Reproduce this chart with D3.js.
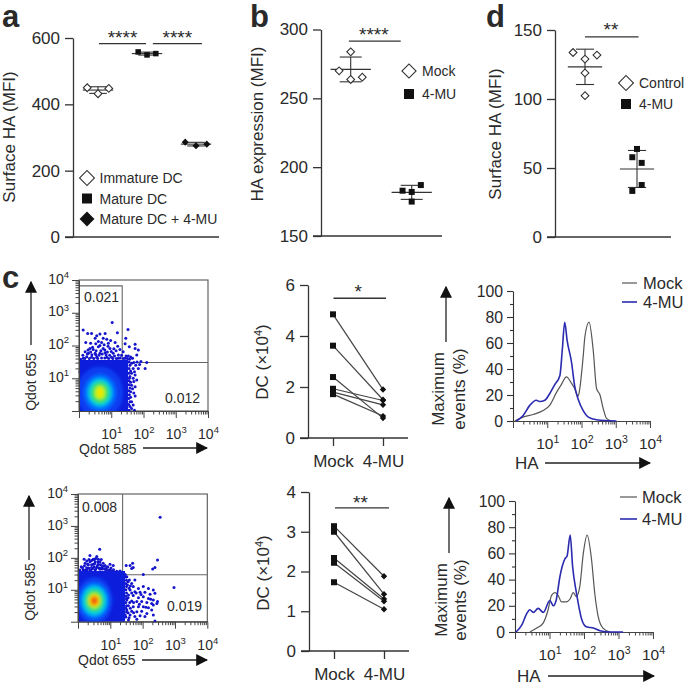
<!DOCTYPE html>
<html><head><meta charset="utf-8"><script src="https://cdn.jsdelivr.net/npm/d3@7"></script>
<style>html,body{margin:0;background:#fff}svg{display:block}text{font-family:"Liberation Sans",Arial,sans-serif;fill:#2a2a2a}</style>
</head><body><svg id="c" width="685" height="685"></svg>
<script>
// ---------- panel a
const aGroups = ["Immature DC","Mature DC","Mature DC + 4-MU"];
const aPoints = [[[-0.22,450],[0,432],[0.22,448]],[[-0.18,558],[0,549],[0.18,553]],[[-0.22,286],[0,275],[0.22,280]]];
const aMean = [443,553,280];
const aSD = [10,4.5,5.5];
// ---------- panel b
const bGroups = ["Mock","4-MU"];
const bPoints = [[[-0.19,270],[0,283.8],[0,263.7],[0.19,265.4]],[[-0.15,182.9],[0,182],[0,175],[0.15,187]]];
const bMean = [271,181.7];
const bSD = [9,5.1];
// ---------- panel d
const dGroups = ["Control","4-MU"];
const dPoints = [[[-0.23,133.7],[0.23,131.8],[0,128.9],[0,118.9],[0,102.4]],[[0,63.8],[-0.09,57.8],[0.09,53.7],[0.09,37.7],[-0.09,33.4]]];
const dMean = [123.3,49.3];
const dSD = [12.8,13.4];
// ---------- paired DC counts
const pairCats = ["Mock","4-MU"];
const pairTop = [[4.85,1.9],[3.62,1.5],[2.39,0.78],[1.93,1.47],[1.8,1.3],[1.72,0.86]];
const pairBottom = [[3.14,1.88],[3.0,1.43],[2.34,1.31],[2.22,1.25],[1.73,1.05]];
// ---------- histograms [log10 HA, % max]
const h1Mock = [[.05,0],[.29,3],[.59,5],[.88,8],[1.07,12],[1.27,22],[1.41,28],[1.56,34],[1.71,29],[1.80,25],[1.90,19],[1.95,25],[2.05,50],[2.10,65],[2.22,76],[2.34,55],[2.44,25],[2.54,20],[2.63,10],[2.73,2],[2.88,0]];
const h1Blue = [[.10,0],[.29,4],[.49,12],[.68,16],[.78,15],[.93,16],[1.07,21],[1.22,28],[1.37,35],[1.44,55],[1.51,76],[1.58,62],[1.71,45],[1.80,27],[1.90,17],[2.05,8],[2.20,3],[2.44,1],[3.02,0]];
const h2Mock = [[.43,0],[.63,3],[.82,7],[.96,17],[1.06,28],[1.16,30],[1.25,28],[1.35,23],[1.49,23],[1.59,25],[1.69,30],[1.78,27],[1.88,35],[1.98,60],[2.09,74],[2.22,55],[2.31,30],[2.41,12],[2.55,3],[2.75,0]];
const h2Blue = [[.03,0],[.19,5],[.34,14],[.43,17],[.53,15],[.67,18],[.82,15],[1.01,24],[1.11,20],[1.20,25],[1.30,42],[1.45,56],[1.51,58],[1.60,74],[1.67,50],[1.78,30],[1.93,10],[2.07,4],[2.27,3],[2.46,1],[2.75,0],[3.13,0]];
// ---------- flow plots: events in log10 units
const flow1Labels = ["0.021","0.012"];
const flow2Labels = ["0.008","0.019"];
const flow1Block = [1.52,1.56];
const flow2Block = [1.455,1.59];
// density levels: colour, rx, ry in log10 units
const flow1Center = [.65,.56];
const flow1Levels = [["#0a3cf0",.72,.80],["#0070ff",.50,.56],["#00c8e0",.38,.43],["#30e070",.29,.33],["#b8f000",.17,.22],["#e8e800",.10,.14]];
const flow2Center = [.506,.658];
const flow2Levels = [["#0a3cf0",.56,.74],["#0070ff",.47,.58],["#00c8e0",.38,.47],["#30e070",.29,.35],["#c8e800",.20,.24],["#ff9a00",.14,.16],["#f05a10",.08,.09]];
const flow1Events = [[1.03,2.70],[1.52,2.49],[1.19,2.39],[.13,2.47],[.27,2.37],[.39,2.37],[.65,2.35],[.81,2.37],[.55,2.30],[1.45,2.22],[.50,2.22],[.75,2.22],[.86,2.19],[.98,2.15],[.21,2.09],[.36,2.07],[.60,2.12],[.70,2.09],[.91,2.07],[1.12,2.09],[1.43,2.05],[1.74,2.04],[1.56,1.96],[1.84,1.86],[.34,1.91],[.44,1.88],[.60,1.96],[.75,1.91],[.96,1.91],[1.27,1.88],[1.37,1.81],[1.74,1.91],[.19,1.81],[.29,1.76],[.50,1.76],[.65,1.76],[.81,1.78],[1.06,1.76],[1.22,1.71],[1.53,1.68],[1.79,1.71],[1.66,1.61],[1.92,1.51],[2.10,1.48],[2.05,1.30],[1.63,1.46],[1.68,1.30],[1.84,1.30],[1.63,1.15],[1.74,1.10],[1.79,.95],[1.68,1.00],[1.63,.79],[1.74,.74],[1.60,.59],[1.74,.46],[1.63,.28],[1.68,.18],[1.48,.11],[1.63,.08],[1.37,.05],[.13,1.61],[.24,1.66],[.39,1.64],[.55,1.64],[.86,1.64],[1.01,1.64],[1.22,1.61],[1.43,1.61],[.08,1.35],[.03,1.20],[1.56,1.00],
[.05,1.58],[.12,1.7],[.18,1.6],[.26,1.74],[.32,1.6],[.40,1.72],[.46,1.6],[.52,1.72],[.58,1.6],[.62,1.7],[.7,1.62],[.72,1.74],[.8,1.62],[.84,1.72],[.92,1.6],[.95,1.7],[1.05,1.6],[1.1,1.68],[1.16,1.6],[1.28,1.62],[1.32,1.7],[1.38,1.6],[1.5,1.6],[1.46,1.68],[1.57,1.58],[1.6,1.65],[.28,1.86],[.36,1.8],[.42,1.95],[.53,1.84],[.68,1.84],[.8,1.86],[.88,1.8],[.9,1.98],[1.0,1.82],[1.08,1.9],[1.15,1.84],[1.2,1.98],[.52,2.05],[.78,2.02],[.65,2.0],[1.55,1.5],[1.58,1.4],[1.55,1.3],[1.6,1.22],[1.55,1.15],[1.58,1.05],[1.55,.92],[1.6,.88],[1.55,.8],[1.58,.7],[1.54,.62],[1.56,.5],[1.6,.42],[1.54,.38],[1.58,.28],[1.54,.2],[1.58,.14],[1.7,.9],[1.66,.68],[1.7,.55],[1.72,1.2],[1.76,1.4],[1.7,1.48],[1.8,1.5],[1.88,1.42],[1.45,.03],[1.55,.02],[1.72,.02]];
const flow2Events = [[.67,2.27],[2.46,1.93],[1.69,1.83],[1.49,1.76],[1.61,1.76],[1.71,1.70],[2.38,1.70],[1.66,1.67],[2.31,1.65],[1.09,1.76],[.37,2.07],[.58,2.04],[.19,1.96],[.27,1.90],[.47,1.96],[.63,1.96],[.37,1.88],[.53,1.88],[.68,1.88],[.78,1.83],[.99,1.80],[.22,1.83],[.32,1.78],[.47,1.80],[.63,1.80],[.84,1.76],[.14,1.69],[.27,1.69],[.42,1.70],[.58,1.70],[.73,1.70],[.89,1.70],[.06,1.62],[.22,1.62],[.37,1.62],[.53,1.62],[.68,1.64],[.84,1.64],[.99,1.62],[1.04,1.59],[1.30,1.59],[1.15,1.55],[1.40,1.52],[1.46,1.48],[2.02,1.48],[1.76,1.31],[1.51,1.41],[1.59,1.31],[1.66,1.20],[1.53,1.15],[1.71,1.10],[1.87,1.04],[2.02,1.10],[2.18,1.04],[2.33,.99],[1.61,.99],[1.76,.94],[1.92,.92],[2.07,.92],[2.23,.86],[2.38,.89],[1.56,.84],[1.71,.82],[1.87,.75],[2.02,.78],[2.18,.73],[2.33,.68],[2.46,.63],[1.51,.68],[1.66,.65],[1.82,.63],[1.97,.63],[2.13,.60],[2.28,.57],[2.44,.57],[1.56,.50],[1.71,.47],[1.87,.47],[2.02,.47],[2.18,.44],[2.33,.52],[1.51,.37],[1.66,.33],[1.82,.31],[1.97,.33],[2.13,.26],[2.28,.37],[1.46,.21],[1.61,.21],[1.76,.16],[1.92,.19],[2.33,.21],[2.07,.16],[1.40,.05],[1.56,.05],[1.82,.08],[2.38,.02],[1.35,.10],[2.54,3.27],[2.97,1.07],
[.1,1.72],[.16,1.62],[.2,1.75],[.28,1.62],[.3,1.8],[.33,1.68],[.4,1.62],[.42,1.78],[.45,1.66],[.5,1.72],[.52,1.82],[.55,1.65],[.6,1.75],[.62,1.88],[.66,1.68],[.7,1.78],[.75,1.65],[.78,1.74],[.82,1.66],[.88,1.62],[.92,1.72],[.95,1.62],[1.02,1.68],[1.1,1.63],[.42,1.92],[.5,1.95],[.34,1.95],[.55,1.98],[.72,1.95],[1.48,1.4],[1.5,1.3],[1.48,1.2],[1.5,1.1],[1.48,1.0],[1.5,.9],[1.48,.8],[1.5,.72],[1.48,.6],[1.5,.5],[1.48,.42],[1.5,.3],[1.48,.15],[1.55,1.25],[1.58,1.05],[1.55,.75],[1.6,.6],[1.55,.28],[1.58,.12],[1.2,1.58],[1.25,1.55],[1.35,1.55],[1.62,1.12],[1.66,.9],[1.8,.9],[1.62,.42],[1.72,.6],[1.72,.28],[1.95,.85],[1.9,.55],[2.1,.45],[2.25,.7]];

const INK="#333", svg=d3.select("#c");
const defs=svg.append("defs");
defs.append("filter").attr("id","bl").attr("x","-30%").attr("y","-30%").attr("width","160%").attr("height","160%")
  .append("feGaussianBlur").attr("stdDeviation",1.8);
defs.append("marker").attr("id","ah").attr("viewBox","0 0 10 10").attr("refX",9).attr("refY",5).attr("markerUnits","userSpaceOnUse")
  .attr("markerWidth",12).attr("markerHeight",12).attr("orient","auto").append("path").attr("d","M0,0L10,5L0,10Z").attr("fill","#111");

function txt(x,y,s,size,o={}){
  const t=svg.append("text").attr("x",x).attr("y",y).attr("font-size",size).text(s);
  if(o.anchor)t.attr("text-anchor",o.anchor);
  if(o.bold)t.attr("font-weight","bold");
  if(o.rot)t.attr("transform",`rotate(-90 ${x} ${y})`).attr("text-anchor","middle");
  return t;
}
function sym(g,x,y,kind,side,fill){
  g.append("path").attr("d",d3.symbol(d3.symbolSquare,side*side)())
   .attr("transform",`translate(${x},${y})`+(kind==="sq"?"":" rotate(45)"))
   .attr("fill",fill?"#111":"#fff").attr("stroke",fill?"none":"#333").attr("stroke-width",1.1);
}
function hl(x1,x2,y,w=1.3,c=INK){svg.append("line").attr("x1",x1).attr("x2",x2).attr("y1",y).attr("y2",y).attr("stroke",c).attr("stroke-width",w);}
function styleAxis(g,w=1.3,c=INK){g.select(".domain").attr("stroke",c).attr("stroke-width",w);g.selectAll(".tick line").attr("stroke",c).attr("stroke-width",w);}
function arrow(x1,y1,x2,y2){svg.append("line").attr("x1",x1).attr("y1",y1).attr("x2",x2).attr("y2",y2).attr("stroke","#222").attr("stroke-width",1.3).attr("marker-end","url(#ah)");}
function sup(sel,size){sel.each(function(d){const e=Math.round(Math.log10(d));const t=d3.select(this);t.text(null);
  if(Number.isInteger(Math.log10(d))&&e>0){t.append("tspan").attr("font-size",size).text("10");t.append("tspan").attr("font-size",size*.68).attr("dy",-size*.42).text(e);}});}
function yAxisLeft(x0,scale,ticks,x1,fs){
  const g=svg.append("g").attr("transform",`translate(${x0},0)`).call(d3.axisLeft(scale).tickValues(ticks).tickSize(8).tickSizeOuter(0).tickPadding(5));
  styleAxis(g);g.selectAll("text").attr("font-size",fs).attr("fill","#2a2a2a");
  hl(x0-8,x1,scale.range()[0]);
  return g;
}
function stars(x,y,s){txt(x,y,s,19,{anchor:"middle"});}
function dotPanel(points,mean,sd,x,y,kinds,hw,cw,size){
  points.forEach((pts,i)=>{
    const cx=x(i);
    hl(x(i-hw),x(i+hw),y(mean[i]),1.1);
    [y(mean[i]-sd[i]),y(mean[i]+sd[i])].forEach(v=>hl(x(i-cw),x(i+cw),v,1.1));
    svg.append("line").attr("x1",cx).attr("x2",cx).attr("y1",y(mean[i]-sd[i])).attr("y2",y(mean[i]+sd[i])).attr("stroke",INK).attr("stroke-width",1.1);
    const gg=svg.append("g");
    pts.forEach(p=>{const k=kinds[i];sym(gg,x(i+p[0]),y(p[1]),k.t,k.s,k.f);});
  });
}
const fs=17;
// panel a
{const x=d3.scaleLinear([0,1],[98,147]),y=d3.scaleLinear([0,600],[237,38]);
 yAxisLeft(73,y,[0,200,400,600],219,fs);
 dotPanel(aPoints,aMean,aSD,x,y,[{t:"di",s:5.5,f:false},{t:"sq",s:5.5,f:true},{t:"di",s:5,f:true}],.31,.18);
 hl(x(0.02),x(0.98),y(583));hl(x(1.12),x(2.12),y(583));
 stars(x(.5),44,"****");stars(x(1.62),44,"****");
 txt(15,137,"Surface HA (MFI)",fs,{rot:1});
 const kinds=[["di",10.5,false],["sq",10,true],["di",10.5,true]];
 aGroups.forEach((s,i)=>{const yy=178+i*20.5;sym(svg,87,yy,kinds[i][0],kinds[i][1],kinds[i][2]);txt(99.5,yy+5,s,14);});
}
// panel b
{const x=d3.scaleLinear([0,1],[350.7,411.7]),y=d3.scaleLinear([150,300],[236,29.5]);
 yAxisLeft(321,y,[150,200,250,300],442,fs);
 dotPanel(bPoints,bMean,bSD,x,y,[{t:"di",s:5.5,f:false},{t:"sq",s:6,f:true}],.33,.18);
 hl(x(-.03),x(.82),y(291.6));stars(x(.38),41,"****");
 txt(263,124,"HA expression (MFI)",fs,{rot:1});
 sym(svg,409,71,"di",10,false);sym(svg,409,94,"sq",10,true);
 bGroups.forEach((s,i)=>txt(422,76+i*23,s,14));
}
// panel d
{const x=d3.scaleLinear([0,1],[585,637]),y=d3.scaleLinear([0,150],[237,30]);
 yAxisLeft(555,y,[0,50,100,150],671,fs);
 dotPanel(dPoints,dMean,dSD,x,y,[{t:"di",s:5.5,f:false},{t:"sq",s:6,f:true}],.33,.175);
 hl(x(0),x(1.03),y(145));stars(x(.5),36,"**");
 txt(501,134,"Surface HA (MFI)",fs,{rot:1});
 sym(svg,626,83,"di",10.5,false);sym(svg,626,104,"sq",10,true);
 dGroups.forEach((s,i)=>txt(639,88+i*21,s,14));
}
[["a",2,27],["b",250,27],["d",486,27],["c",2,288]].forEach(d=>txt(d[1],d[2],d[0],31,{bold:1}).attr("fill","#111"));
// log axis helper
const logTicks=d3.range(0,4).flatMap(k=>d3.range(1,10).map(m=>m*10**k)).concat([1e4]);
function logAxis(scale,orient,at,sz,pad){
  const ax=orient==="l"?d3.axisLeft(scale):d3.axisBottom(scale);
  const g=svg.append("g").attr("transform",orient==="l"?`translate(${at},0)`:`translate(0,${at})`)
    .call(ax.tickValues(logTicks).tickSize(7).tickSizeOuter(0).tickPadding(pad).tickFormat(d=>d));
  styleAxis(g,1,"#444");
  g.selectAll(".tick line").attr(orient==="l"?"x2":"y2",d=>{const maj=Number.isInteger(Math.log10(d));return (orient==="l"?-1:1)*(maj?7:3.5);});
  g.selectAll("text").attr("fill","#2a2a2a").call(sup,sz);
  return g;
}
function flow(o){
  const x=d3.scaleLog([1,1e4],o.xr),y=d3.scaleLog([1,1e4],o.yr),E=v=>10**v;
  const id="cl"+o.id;
  const bx=o.block;
  defs.append("clipPath").attr("id",id).append("rect").attr("x",x(1)).attr("y",y(E(bx[1]))).attr("width",x(E(bx[0]))-x(1)).attr("height",y(1)-y(E(bx[1])));
  svg.append("rect").attr("x",o.xr[0]).attr("y",o.yr[1]).attr("width",o.xr[1]-o.xr[0]).attr("height",o.yr[0]-o.yr[1]).attr("fill","none").attr("stroke","#555").attr("stroke-width",1.1);
  const gate=d3.line().x(d=>x(E(d[0]))).y(d=>y(E(d[1])));
  o.gates.forEach(gp=>svg.append("path").attr("d",gate(gp)).attr("fill","none").attr("stroke","#666").attr("stroke-width",1.1));
  svg.append("g").selectAll("circle").data(o.events).join("circle").attr("cx",d=>x(E(d[0]))).attr("cy",d=>y(E(d[1]))).attr("r",1.5).attr("fill","#1414cc");
  const b=svg.append("g").attr("clip-path",`url(#${id})`);
  b.append("rect").attr("x",x(1)).attr("y",y(E(bx[1]))).attr("width",x(E(bx[0]))-x(1)).attr("height",y(1)-y(E(bx[1]))).attr("fill","#0c1edc");
  const gg=b.append("g").attr("filter","url(#bl)");
  o.levels.forEach(l=>gg.append("ellipse").attr("cx",x(E(o.center[0]))).attr("cy",y(E(o.center[1])))
    .attr("rx",x(E(o.center[0]+l[1]))-x(E(o.center[0]))).attr("ry",y(E(o.center[1]))-y(E(o.center[1]+l[2]))).attr("fill",l[0]));
  logAxis(y,"l",o.xr[0],14,3);logAxis(x,"b",o.yr[0],14,14);
  txt(o.l1[0],o.l1[1],o.labels[0],14);txt(o.l2[0],o.l2[1],o.labels[1],14);
  txt(o.yt[0],o.yt[1],o.yl,14,{rot:1});txt(o.xt[0],o.xt[1],o.xl,14);
  arrow(o.ya[0],o.ya[1],o.ya[0],o.ya[2]);arrow(o.xa[0],o.xa[2],o.xa[1],o.xa[2]);
}
flow({id:1,xr:[79,208],yr:[411,280],block:flow1Block,center:flow1Center,levels:flow1Levels,events:flow1Events,
  gates:[[[0,3.82],[1.34,3.82],[1.34,1.55]],[[1.34,1.48],[4,1.48]]],labels:flow1Labels,l1:[84,302],l2:[165,403],
  yl:"Qdot 655",xl:"Qdot 585",yt:[36,382],xt:[79,454],ya:[31,345,282],xa:[143,207,448]});
flow({id:2,xr:[78,207.3],yr:[621.7,494],block:flow2Block,center:flow2Center,levels:flow2Levels,events:flow2Events,
  gates:[[[1.38,4],[1.38,1.5]],[[1.38,1.47],[4,1.47]]],labels:flow2Labels,l1:[82,512],l2:[167,611],
  yl:"Qdot 585",xl:"Qdot 655",yt:[35,592],xt:[78,665],ya:[29,560,496],xa:[142,207,660]});
// paired panels
function pair(o){
  const y=d3.scaleLinear([0,o.max],o.yr),x=d3.scalePoint(pairCats,o.xp);
  const g=svg.append("g").attr("transform",`translate(${o.ax},0)`).call(d3.axisLeft(y).tickValues(o.ticks).tickSize(8).tickSizeOuter(0).tickPadding(5).tickFormat(d3.format("d")));
  styleAxis(g);g.selectAll("text").attr("font-size",fs).attr("fill","#2a2a2a");
  const gx=svg.append("g").attr("transform",`translate(0,${o.yr[0]})`).call(d3.axisBottom(x).tickSize(8).tickSizeOuter(0).tickPadding(9));
  gx.select(".domain").remove();gx.selectAll(".tick line").attr("stroke",INK).attr("stroke-width",1.3);gx.selectAll("text").attr("font-size",fs).attr("fill","#2a2a2a");
  hl(o.ax-8,o.x1,o.yr[0]);
  o.data.forEach(d=>{
    svg.append("line").attr("x1",x("Mock")).attr("x2",x("4-MU")).attr("y1",y(d[0])).attr("y2",y(d[1])).attr("stroke","#444").attr("stroke-width",1.2);
    sym(svg,x("Mock"),y(d[0]),"sq",6,true);sym(svg,x("4-MU"),y(d[1]),"di",4.5,true);
  });
  hl(o.bar[0],o.bar[1],y(o.bar[2]));stars((o.bar[0]+o.bar[1])/2+o.so,o.bar[3],o.stars);
  const t=txt(o.lx,o.ly,"",fs,{rot:1});t.append("tspan").text("DC (×10");t.append("tspan").attr("font-size",11).attr("dy",-6).text("4");t.append("tspan").attr("dy",6).text(")");
}
pair({max:6,yr:[438,285],xp:[333,383],ax:308,ticks:[0,2,4,6],x1:408,data:pairTop,bar:[333.5,386,5.48,298],so:-1.5,stars:"*",lx:268,ly:362});
pair({max:4,yr:[651,492],xp:[334,384],ax:309,ticks:[0,1,2,3,4],x1:409,data:pairBottom,bar:[335,389,3.6,509],so:-1.5,stars:"**",lx:269,ly:573});
// histograms
function hist(o){
  const x=d3.scaleLog([1,1e4],o.xr),y=d3.scaleLinear([0,100],o.yr);
  const g=svg.append("g").attr("transform",`translate(${o.xr[0]},0)`).call(d3.axisLeft(y).tickValues(d3.range(0,101,10)).tickSize(6).tickSizeOuter(0).tickPadding(4).tickFormat(d=>d%20===0?d:""));
  styleAxis(g,1.1);g.selectAll(".tick line").attr("x2",d=>d%20===0?-6:-3);g.selectAll("text").attr("font-size",15.8).attr("fill","#2a2a2a");
  const g2=logAxis(x,"b",o.yr[0],15.5,14);
  g2.select(".domain").attr("stroke-width",1.1);
  const ln=d3.line().x(d=>x(10**d[0])).y(d=>y(d[1])).curve(d3.curveMonotoneX);
  svg.append("path").attr("d",ln(o.mock)).attr("fill","none").attr("stroke","#555").attr("stroke-width",1.2);
  svg.append("path").attr("d",ln(o.blue)).attr("fill","none").attr("stroke","#2b2bb0").attr("stroke-width",1.6);
  o.leg.forEach((l,i)=>{hl(l[0],l[1],l[2],i?1.6:1.2,i?"#2b2bb0":"#555");txt(l[3],l[2]+6,pairCats[i],16.5);});
  txt(o.t1,o.tc,"Maximum",fs,{rot:1});txt(o.t2,o.tc,"events (%)",fs,{rot:1});
  txt(o.xr[0]+2,o.ha[2]+6,"HA",fs);arrow(o.ha[0],o.ha[2],o.ha[1],o.ha[2]);
  arrow(o.ya[0],o.ya[1],o.ya[0],o.ya[2]);
}
hist({xr:[513,650],yr:[421,291],mock:h1Mock,blue:h1Blue,leg:[[622,637,283,643],[622,637,302,643]],t1:444,t2:465,tc:389,ha:[545,650,463],ya:[446,342,287]});
hist({xr:[515,653],yr:[632,501],mock:h2Mock,blue:h2Blue,leg:[[620,637,497,642],[620,637,519,642]],t1:447,t2:466,tc:600,ha:[548,654,676],ya:[449,553,498]});
</script></body></html>
